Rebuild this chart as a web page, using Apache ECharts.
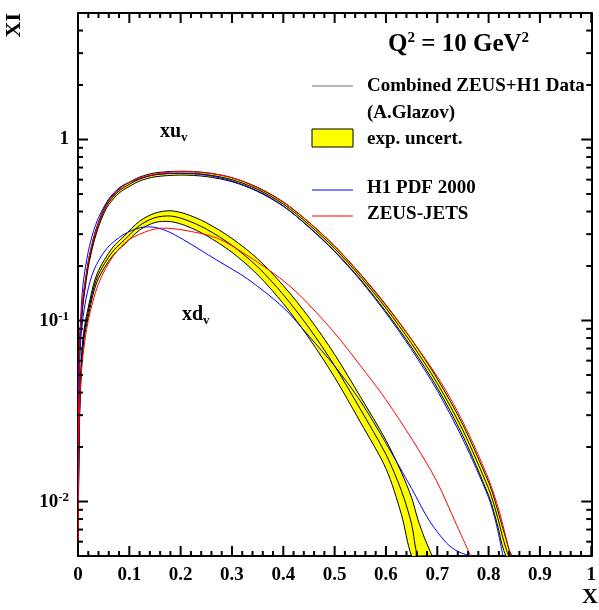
<!DOCTYPE html>
<html><head><meta charset="utf-8">
<script src="https://cdn.jsdelivr.net/npm/echarts@6/dist/echarts.min.js"></script>
<style>html,body{margin:0;padding:0;background:#fff}#c{width:599px;height:610px}</style>
</head><body><div id="c"></div>
<script>
// ---- data ----
const xMajorTicks = [0, 0.1, 0.2, 0.3, 0.4, 0.5, 0.6, 0.7, 0.8, 0.9, 1];
const xMinorTicks = [0.02,0.04,0.06,0.08,0.12,0.14,0.16,0.18,0.22,0.24,0.26,0.28,0.32,0.34,0.36,0.38,0.42,0.44,0.46,0.48,
                     0.52,0.54,0.56,0.58,0.62,0.64,0.66,0.68,0.72,0.74,0.76,0.78,0.82,0.84,0.86,0.88,0.92,0.94,0.96,0.98];
const yMajorTicks = [0.01, 0.1, 1];
const yMinorTicks = [0.006,0.007,0.008,0.009,0.02,0.03,0.04,0.05,0.06,0.07,0.08,0.09,0.2,0.3,0.4,0.5,0.6,0.7,0.8,0.9,2,3,4];

// xu_v combined fit (central, band low, band high)
const xuX   = [0.001,0.002,0.004,0.007,0.01,0.015,0.02,0.03,0.04,0.05,0.06,0.08,0.1,0.12,0.15,0.2,0.25,0.3,0.35,0.4,0.45,0.5,0.55,0.6,0.65,0.7,0.75,0.8,0.81,0.82,0.826,0.834,0.84,0.846];
const xuCen = [0.035,0.055,0.08,0.105,0.13,0.165,0.205,0.275,0.34,0.4,0.45,0.52,0.565,0.605,0.638,0.652,0.64,0.6,0.53,0.44,0.339,0.25,0.175,0.117,0.0746,0.045,0.0247,0.0118,0.0097,0.0077,0.0066,0.0055,0.005,0.005];
const xuLo  = [0.033,0.052,0.076,0.1,0.124,0.158,0.197,0.265,0.329,0.388,0.437,0.506,0.55,0.59,0.622,0.636,0.624,0.585,0.516,0.428,0.329,0.242,0.169,0.112,0.071,0.0425,0.023,0.0108,0.0088,0.0069,0.0058,0.005,0.005,0.005];
const xuHi  = [0.037,0.058,0.084,0.11,0.136,0.172,0.213,0.285,0.351,0.412,0.463,0.534,0.58,0.62,0.654,0.668,0.656,0.615,0.544,0.452,0.349,0.258,0.181,0.122,0.0785,0.0477,0.0265,0.0128,0.0106,0.0085,0.0074,0.0062,0.0054,0.005];

// xd_v combined fit
const xdX   = [0.001,0.003,0.005,0.008,0.012,0.018,0.025,0.031,0.04,0.056,0.07,0.09,0.12,0.15,0.18,0.21,0.25,0.3,0.35,0.4,0.45,0.5,0.55,0.6,0.63,0.65,0.662,0.675,0.69];
const xdCen = [0.012,0.03,0.045,0.066,0.085,0.105,0.13,0.153,0.18,0.216,0.245,0.278,0.335,0.37,0.378,0.36,0.32,0.26,0.198,0.139,0.0912,0.0562,0.0324,0.0182,0.0115,0.0075,0.005,0.005,0.005];
const xdLo  = [0.011,0.028,0.042,0.062,0.08,0.099,0.123,0.145,0.171,0.205,0.232,0.263,0.316,0.348,0.352,0.334,0.295,0.238,0.179,0.124,0.08,0.0485,0.0275,0.0152,0.0085,0.005,0.005,0.005,0.005];
const xdHi  = [0.013,0.032,0.048,0.07,0.09,0.111,0.137,0.161,0.189,0.227,0.258,0.293,0.354,0.392,0.404,0.388,0.347,0.284,0.219,0.156,0.104,0.065,0.038,0.0218,0.0145,0.0105,0.008,0.0063,0.005];

// H1 PDF 2000
const h1uX = [0.0003,0.001,0.002,0.005,0.01,0.02,0.03,0.04,0.06,0.08,0.1,0.15,0.2,0.25,0.3,0.35,0.4,0.45,0.5,0.55,0.6,0.65,0.7,0.75,0.8,0.815,0.828];
const h1uY = [0.01,0.03,0.055,0.1,0.16,0.24,0.31,0.37,0.47,0.54,0.58,0.64,0.65,0.635,0.59,0.52,0.43,0.327,0.24,0.167,0.11,0.069,0.041,0.022,0.0105,0.0075,0.005];
const h1dX = [0.0005,0.002,0.005,0.01,0.018,0.031,0.056,0.09,0.12,0.14,0.17,0.205,0.27,0.33,0.4,0.45,0.5,0.55,0.6,0.65,0.685,0.718,0.74,0.765];
const h1dY = [0.01,0.04,0.075,0.105,0.142,0.19,0.25,0.3,0.325,0.329,0.315,0.28,0.216,0.17,0.118,0.082,0.056,0.036,0.021,0.0118,0.0078,0.0059,0.0053,0.005];

// ZEUS-JETS
const zjuX = [0.0005,0.002,0.005,0.01,0.02,0.03,0.05,0.08,0.12,0.2,0.3,0.4,0.5,0.6,0.7,0.75,0.8,0.82,0.83,0.843];
const zjuY = [0.02,0.055,0.095,0.135,0.21,0.28,0.405,0.53,0.615,0.665,0.615,0.45,0.257,0.121,0.049,0.0275,0.0133,0.009,0.007,0.005];
const zjdX = [0.0005,0.002,0.005,0.01,0.02,0.04,0.07,0.1,0.14,0.165,0.205,0.27,0.335,0.393,0.432,0.496,0.562,0.6,0.652,0.698,0.737,0.765];
const zjdY = [0.006,0.025,0.045,0.065,0.1,0.16,0.23,0.28,0.315,0.324,0.316,0.286,0.224,0.172,0.138,0.088,0.051,0.0365,0.0218,0.0131,0.0075,0.005];

// ---- chart ----
const FONT = 'Liberation Serif';
const SMOOTH = 0.3;
const TICK_COLOR = '#000000';
const pairs = (xs, ys) => xs.map((x, i) => [x, ys[i]]);

function bandSeries(xs, lo, hi, cen) {
  return {
    type: 'custom', z: 2, silent: true, clip: true,
    data: [[xs[0], hi[0]]],
    renderItem: function (params, api) {
      const H = xs.map((x, i) => api.coord([x, hi[i]]));
      const L = xs.map((x, i) => api.coord([x, lo[i]]));
      const C = xs.map((x, i) => api.coord([x, cen[i]]));
      const poly = H.concat(L.slice().reverse());
      const ls = { stroke: '#000', lineWidth: 1, fill: null };
      return { type: 'group', children: [
        { type: 'polygon', shape: { points: poly, smooth: SMOOTH }, style: { fill: '#ffff00', stroke: null } },
        { type: 'polyline', shape: { points: H, smooth: SMOOTH }, style: ls },
        { type: 'polyline', shape: { points: L, smooth: SMOOTH }, style: ls },
        { type: 'polyline', shape: { points: C, smooth: SMOOTH }, style: ls }
      ] };
    }
  };
}
function lineSeries(xs, ys, color, z) {
  return { type: 'line', data: pairs(xs, ys), showSymbol: false, symbol: 'none', silent: true, z: z,
           smooth: SMOOTH, lineStyle: { color: color, width: 1 }, clip: true, animation: false };
}
// tick marks on all four frame sides, placed through the axes' own scales
function tickSeries(xv, yv) {
  return { type: 'custom', z: 8, silent: true, clip: false,
    data: [[0.5, 0.5]],
    renderItem: function (params, api) {
      const st = { stroke: TICK_COLOR, lineWidth: 2 };
      const kids = [];
      xv.forEach(function (t) {
        const pb = api.coord([t[0], 0.005]), pt = api.coord([t[0], 5]);
        kids.push({ type: 'line', shape: { x1: pb[0], y1: pb[1], x2: pb[0], y2: pb[1] - t[1] }, style: st });
        kids.push({ type: 'line', shape: { x1: pt[0], y1: pt[1], x2: pt[0], y2: pt[1] + t[1] }, style: st });
      });
      yv.forEach(function (t) {
        const pl = api.coord([0, t[0]]), pr = api.coord([1, t[0]]);
        kids.push({ type: 'line', shape: { x1: pl[0], y1: pl[1], x2: pl[0] + t[1], y2: pl[1] }, style: st });
        kids.push({ type: 'line', shape: { x1: pr[0] - t[1], y1: pr[1], x2: pr[0], y2: pr[1] }, style: st });
      });
      return { type: 'group', children: kids };
    } };
}
const xTickList = xMajorTicks.map(v => [v, 10]).concat(xMinorTicks.map(v => [v, 5]));
const yTickList = yMajorTicks.map(v => [v, 10]).concat(yMinorTicks.map(v => [v, 5]));

const chart = echarts.init(document.getElementById('c'), null, { renderer: 'canvas' });
const xAxisBase = {
  type: 'value', min: 0, max: 1, interval: 0.1,
  axisLine: { show: true, onZero: false, lineStyle: { color: '#000', width: 2 } },
  axisTick: { show: false }, minorTick: { show: false },
  splitLine: { show: false }, minorSplitLine: { show: false }
};
const yAxisBase = {
  type: 'log', logBase: 10, min: 0.005, max: 5,
  axisLine: { show: true, onZero: false, lineStyle: { color: '#000', width: 2 } },
  axisTick: { show: false }, minorTick: { show: false },
  splitLine: { show: false }, minorSplitLine: { show: false }
};
function yLabel(v) {
  const l = Math.log10(v), e = Math.round(l);
  if (Math.abs(l - e) > 1e-6) return '';
  if (e === 0) return '{n|1}';
  return '{n|10}{s|' + e + '}';
}

const option = {
  animation: false,
  backgroundColor: '#fff',
  grid: { left: 78, right: 6, top: 13, bottom: 54, containLabel: false },
  xAxis: [
    Object.assign({}, xAxisBase, { position: 'bottom',
      axisLabel: { show: true, margin: 10, color: '#000', fontFamily: FONT, fontWeight: 'bold', fontSize: 19,
        formatter: v => String(Math.round(v * 10) / 10) } }),
    Object.assign({}, xAxisBase, { position: 'top', axisLabel: { show: false } })
  ],
  yAxis: [
    Object.assign({}, yAxisBase, { position: 'left',
      axisLabel: { show: true, margin: 9, formatter: yLabel,
        rich: {
          n: { color: '#000', fontFamily: FONT, fontWeight: 'bold', fontSize: 19, verticalAlign: 'bottom' },
          s: { color: '#000', fontFamily: FONT, fontWeight: 'bold', fontSize: 13, verticalAlign: 'bottom', padding: [0, 0, 8, 0] }
        } } }),
    Object.assign({}, yAxisBase, { position: 'right', axisLabel: { show: false } })
  ],
  series: [
    bandSeries(xuX, xuLo, xuHi, xuCen),
    bandSeries(xdX, xdLo, xdHi, xdCen),
    lineSeries(h1uX, h1uY, '#0000ff', 4), lineSeries(h1dX, h1dY, '#0000ff', 4),
    lineSeries(zjuX, zjuY, '#ff0000', 5), lineSeries(zjdX, zjdY, '#ff0000', 5),
    tickSeries(xTickList, yTickList)
  ],
  graphic: [
    { type: 'text', left: 3, top: 13, rotation: Math.PI / 2,
      style: { text: 'XI', font: 'bold 22px "Liberation Serif"', fill: '#000' } },
    { type: 'text', x: 598, y: 597, style: { text: 'X', font: 'bold 22px "Liberation Serif"', fill: '#000', textAlign: 'right', textVerticalAlign: 'middle' } },
    { type: 'text', x: 388, y: 44, style: { text: '{a|Q}{b|2}{a| = 10 GeV}{b|2}', textVerticalAlign: 'middle',
        rich: { a: { font: 'bold 25px "Liberation Serif"', fill: '#000', verticalAlign: 'bottom' },
                b: { font: 'bold 15px "Liberation Serif"', fill: '#000', verticalAlign: 'bottom', padding: [0, 0, 11, 0] } } } },
    { type: 'line', shape: { x1: 312, y1: 86, x2: 353, y2: 86 }, style: { stroke: '#707070', lineWidth: 1.2 } },
    { type: 'text', x: 367, y: 86, style: { text: 'Combined ZEUS+H1 Data', font: 'bold 19px "Liberation Serif"', fill: '#000', textVerticalAlign: 'middle' } },
    { type: 'text', x: 367, y: 113, style: { text: '(A.Glazov)', font: 'bold 19px "Liberation Serif"', fill: '#000', textVerticalAlign: 'middle' } },
    { type: 'rect', shape: { x: 312, y: 129, width: 41, height: 18 }, style: { fill: '#ffff00', stroke: '#000', lineWidth: 1 } },
    { type: 'text', x: 367, y: 139, style: { text: 'exp. uncert.', font: 'bold 19px "Liberation Serif"', fill: '#000', textVerticalAlign: 'middle' } },
    { type: 'line', shape: { x1: 312, y1: 190, x2: 353, y2: 190 }, style: { stroke: '#0000ff', lineWidth: 1.2 } },
    { type: 'text', x: 367, y: 188, style: { text: 'H1 PDF 2000', font: 'bold 19px "Liberation Serif"', fill: '#000', textVerticalAlign: 'middle' } },
    { type: 'line', shape: { x1: 312, y1: 216, x2: 353, y2: 216 }, style: { stroke: '#ff0000', lineWidth: 1.2 } },
    { type: 'text', x: 367, y: 214, style: { text: 'ZEUS-JETS', font: 'bold 19px "Liberation Serif"', fill: '#000', textVerticalAlign: 'middle' } },
    { type: 'text', x: 160, y: 133, style: { text: '{a|xu}{b|v}', textVerticalAlign: 'middle',
        rich: { a: { font: 'bold 20px "Liberation Serif"', fill: '#000', verticalAlign: 'top' },
                b: { font: 'bold 13px "Liberation Serif"', fill: '#000', verticalAlign: 'top', padding: [9, 0, 0, 0] } } } },
    { type: 'text', x: 182, y: 316, style: { text: '{a|xd}{b|v}', textVerticalAlign: 'middle',
        rich: { a: { font: 'bold 20px "Liberation Serif"', fill: '#000', verticalAlign: 'top' },
                b: { font: 'bold 13px "Liberation Serif"', fill: '#000', verticalAlign: 'top', padding: [9, 0, 0, 0] } } } }
  ]
};
chart.setOption(option);
</script></body></html>
